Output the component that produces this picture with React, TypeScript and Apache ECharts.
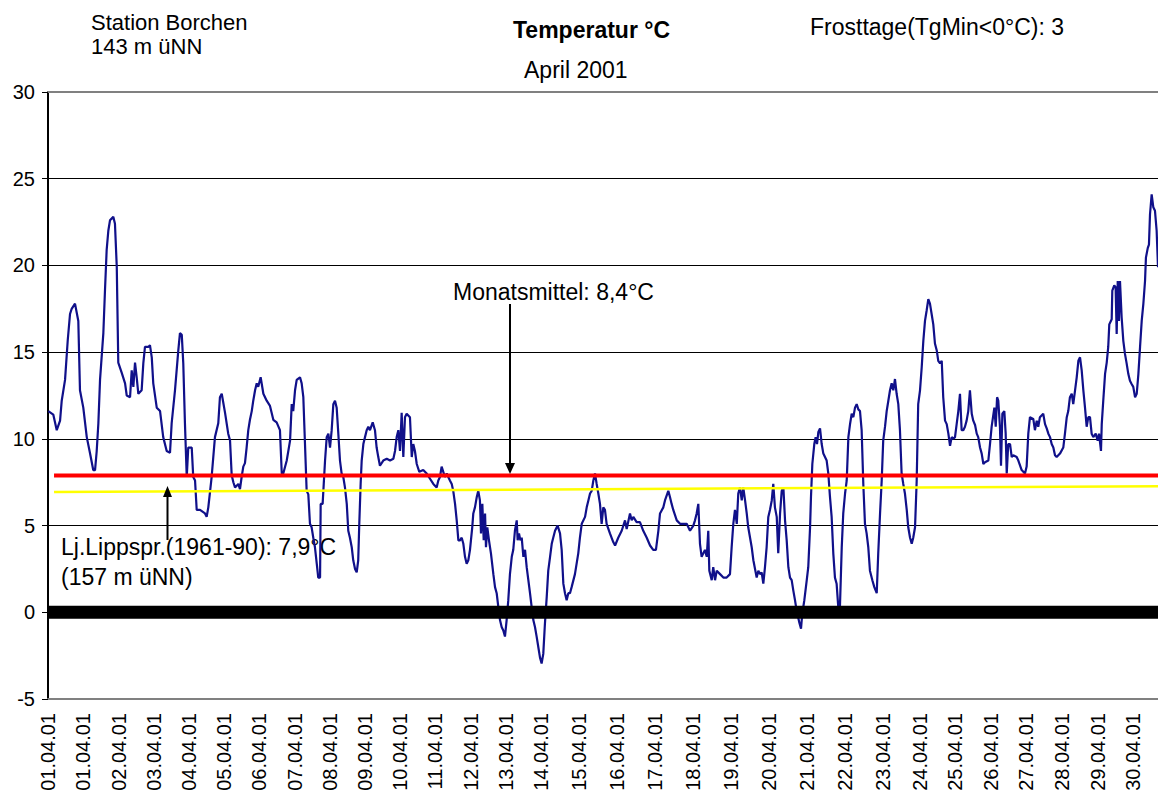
import React, { useEffect, useRef } from "react";
import * as echarts from "echarts";

// ---------- data ----------
const tickLabels = [
  "01.04.01", "01.04.01", "02.04.01", "03.04.01", "04.04.01", "05.04.01", "06.04.01", "07.04.01",
  "08.04.01", "09.04.01", "10.04.01", "11.04.01", "12.04.01", "13.04.01", "14.04.01", "15.04.01",
  "16.04.01", "17.04.01", "18.04.01", "19.04.01", "20.04.01", "21.04.01", "22.04.01", "23.04.01",
  "24.04.01", "25.04.01", "26.04.01", "27.04.01", "28.04.01", "29.04.01", "30.04.01",
];
// position (hours since start) of each date label
const tickHours = [
  0, 23.5, 46.9, 70.2, 93.6, 116.9, 140.2, 163.6, 186.9, 210.3, 233.6, 256.9, 280.3, 303.6, 327.0,
  352.1, 377.3, 402.5, 427.7, 452.9, 478.1, 503.3, 528.5, 553.7, 578.2, 601.7, 625.3, 648.8, 672.3,
  695.9, 719.4,
];
const X_MAX_HOURS = 736;

// time in hours since start, temperature in °C
const times = [
  0.2, 3.5, 5.8, 8.0, 9.1, 11.3, 13.1, 14.6, 15.7, 17.9, 20.1, 21.2, 23.4, 25.7, 27.8, 30.0, 31.2, 32.3, 33.4, 34.5,
  36.7, 37.8, 38.9, 40.0, 41.1, 43.3, 44.4, 45.6, 46.6, 48.9, 51.1, 52.2, 54.4, 55.5, 56.6, 57.7, 58.8, 59.9, 62.1, 63.2,
  64.3, 66.5, 67.6, 68.8, 69.8, 72.1, 74.3, 76.4, 78.7, 80.9, 82.0, 84.2, 86.4, 87.5, 88.7, 89.7, 90.8, 92.0, 93.0, 95.3,
  96.3, 97.5, 98.6, 100.8, 104.1, 105.2, 106.3, 108.5, 110.7, 112.9, 114.0, 115.2, 117.4, 119.5,
  120.7, 121.8, 122.9, 124.0, 126.2, 127.3, 128.4, 129.5, 130.6, 131.7, 132.8, 133.9, 135.1, 136.1, 137.3, 138.4, 139.4,
  141.0, 142.8, 145.0, 147.2, 149.4, 151.6, 153.8, 155.0, 156.0, 158.3, 160.5, 161.6, 162.6, 163.8, 164.9, 167.1, 168.2,
  169.3, 170.4, 171.5, 172.6, 173.7, 174.8, 175.9, 177.0, 178.2, 179.2, 180.4, 180.8, 182.1, 183.7, 184.8, 185.9, 187.0,
  188.1, 189.2, 190.3, 191.4, 192.5, 193.6, 194.7, 195.8, 196.9, 198.1, 199.1, 200.2, 201.4, 202.4, 203.6, 204.7, 205.7,
  206.4, 207.3, 208.0, 209.1, 210.2, 211.3, 212.4, 213.5, 215.3, 216.8, 217.9, 219.0, 220.1, 222.3, 224.6, 226.8, 229.0,
  230.1, 231.2, 232.3, 233.4, 234.5, 235.6, 236.7, 237.8, 238.9, 240.0, 241.2, 242.2, 243.3, 244.5, 246.2,
  248.8, 251.1, 253.3, 255.5, 257.7, 258.8, 259.9, 261.0, 262.1, 263.2, 264.4, 265.4, 266.5, 267.7, 268.7, 269.9, 271.0,
  272.1, 273.2, 274.3, 275.4, 276.5, 277.6, 278.7, 279.8, 281.3, 282.0, 283.1, 284.3, 285.3, 286.4, 287.1, 288.0, 288.9,
  289.8, 290.4, 291.3, 292.4, 293.7, 295.3, 296.4, 297.5, 298.6, 299.7, 300.8, 301.9, 303.0, 304.1, 305.2, 306.3, 307.5,
  308.5, 309.6, 310.8, 311.4, 312.3, 313.2, 314.1, 315.2, 316.3, 317.4, 318.5, 319.6, 320.7, 321.8, 322.9, 324.0, 325.1,
  326.2, 327.3, 328.4, 329.5, 330.7, 331.7, 332.9, 334.0, 335.0, 336.2, 337.9, 339.5, 340.6, 341.7, 342.8, 343.9, 345.0,
  346.1, 347.2, 349.4, 351.6, 352.7, 353.9, 356.1, 357.2, 358.3, 359.4, 360.5, 361.6, 362.7, 363.8, 364.9,
  366.0, 367.1, 368.2, 369.3, 370.4, 372.6, 374.8, 376.0, 378.1, 380.4, 382.6, 383.7, 385.9, 387.0, 388.1, 390.3, 392.5,
  394.7, 397.0, 399.2, 401.3, 403.1, 404.7, 405.8, 408.0, 409.1, 411.3, 412.4, 413.5, 414.6, 416.9, 419.1, 421.2, 423.5,
  425.7, 427.9, 429.0, 430.1, 431.2, 432.3, 433.4, 435.6, 436.8, 437.8, 438.5, 440.1, 441.1, 442.3, 443.4, 445.6, 447.8,
  450.0, 452.2, 453.3, 454.4, 455.5, 456.7, 457.7, 458.8, 460.0, 461.0, 462.2, 463.3, 464.3, 466.6, 467.7, 469.9, 471.0,
  472.1, 473.2, 474.3, 475.4, 476.5, 477.6, 478.7, 479.9, 480.9, 482.0, 483.2, 484.2, 485.4, 486.5, 487.6, 488.7, 489.8,
  490.9, 492.0, 493.1, 494.2, 495.3, 496.4, 498.2,
  499.3, 500.1, 501.5, 503.1, 504.1, 505.3, 505.9, 506.8, 508.1, 509.0, 509.9, 510.8, 511.9, 513.0, 514.1, 516.3, 517.4,
  518.5, 519.6, 520.7, 521.8, 522.9, 524.0, 525.1, 526.3, 527.3, 528.5, 529.6, 530.7, 531.8, 532.9, 534.0, 535.1, 536.2,
  537.3, 538.4, 539.5, 540.6, 541.7, 542.8, 543.9, 545.0, 546.6, 547.9, 549.5, 550.5, 551.7, 552.8, 553.8, 555.0, 556.1,
  557.2, 558.3, 559.4, 560.5, 561.6, 562.7, 563.8, 564.9, 566.0, 567.1, 568.2, 569.4, 570.4, 571.6, 572.7, 573.7, 574.9,
  576.0, 577.0, 578.2, 579.3, 580.4, 581.5, 582.6, 583.7, 584.8, 585.9, 587.0, 588.1, 589.3, 590.3, 591.5, 592.6, 593.6,
  594.8, 595.9, 597.0, 598.1, 599.2, 600.3, 601.4, 602.5, 603.6, 604.7, 605.8, 606.9, 608.0, 609.1, 610.2, 611.3, 612.5,
  613.5, 614.7, 615.8, 616.8, 618.0, 619.1, 620.2, 621.3, 623.5, 624.6, 625.7, 627.5, 628.4, 629.3, 630.1, 631.2, 631.9,
  632.8, 634.1, 635.0, 635.7, 636.7, 637.9, 639.0, 640.0, 642.3, 643.4, 645.6, 647.8, 648.9, 650.0, 651.1, 653.3, 654.4,
  655.6, 656.6, 657.7, 659.9, 661.1, 662.2, 663.3, 664.4, 665.5, 666.6, 667.7, 668.8, 671.0, 673.2, 674.3, 675.5, 676.5,
  677.6, 678.8, 679.8, 681.0, 682.1, 683.2, 684.3, 685.4, 686.5, 687.6, 688.7, 689.8, 690.9, 692.0, 693.1, 694.7, 696.0,
  696.9, 698.2, 698.7, 699.7, 700.9, 702.0, 703.0, 703.7, 705.3, 705.7, 707.0, 707.9, 708.6, 709.3, 710.1, 710.8, 711.9,
  713.0, 714.1, 715.2, 716.3, 717.4, 718.6, 719.6, 720.8, 721.9, 723.0, 724.1, 725.2, 726.3, 727.4, 728.0, 729.2, 730.0,
  730.7, 731.8, 732.9, 734.0, 735.1, 736.0,
];
const temps = [
  11.6, 11.4, 10.5, 11.05, 12.2, 13.4, 15.7, 17.2, 17.5, 17.8, 16.8, 12.8, 11.8, 10.1, 9.2, 8.2, 8.2, 9.3, 10.9, 13.4,
  16.1, 18.6, 20.9, 22.0, 22.6, 22.8, 22.4, 19.9, 14.4, 13.8, 13.2, 12.5, 12.4, 13.95, 13.0, 14.4, 13.55, 12.6, 12.8, 14.35,
  15.3, 15.3, 15.4, 14.7, 13.2, 11.8, 11.6, 10.1, 9.3, 9.2, 10.9, 12.8, 15.1, 16.1, 16.0, 14.35, 10.9, 7.8, 9.5, 9.5,
  7.8, 7.6, 5.9, 5.9, 5.7, 5.5, 6.05, 7.8, 10.1, 10.9, 12.4, 12.6, 11.5, 10.3,
  9.9, 7.9, 7.5, 7.2, 7.4, 7.1, 7.8, 8.4, 8.6, 9.5, 10.5, 11.1, 11.6, 12.2, 12.8, 13.2, 13.0,
  13.55, 12.6, 12.2, 11.9, 11.1, 10.95, 10.5, 8.0, 8.0, 8.75, 9.9, 12.0, 11.6, 12.8, 13.4, 13.55, 13.2,
  12.4, 9.7, 7.0, 6.8, 5.1, 4.9, 4.3, 3.75, 2.8, 2.0, 2.0, 6.25, 6.25, 8.75, 10.1, 10.3, 9.5,
  10.5, 12.0, 12.2, 11.8, 10.3, 8.75, 8.0, 7.8, 7.2, 6.25, 4.7, 4.3, 3.75, 3.0, 2.5, 2.3, 3.0,
  5.1, 7.4, 8.75, 9.7, 10.1, 10.5, 10.7, 10.5, 10.95, 10.5, 9.5, 8.95, 8.45, 8.75, 8.85, 8.75, 8.85,
  9.3, 10.1, 10.5, 9.3, 11.5, 8.95, 11.25, 11.45, 11.35, 11.25, 8.95, 9.7, 9.3, 8.55, 8.1,
  8.2, 8.0, 7.7, 7.4, 7.2, 7.6, 7.8, 8.4, 8.1, 7.8, 8.0, 7.8, 7.6, 7.4, 7.0, 6.25, 5.3,
  4.15, 4.15, 4.3, 3.95, 3.2, 2.8, 3.0, 3.6, 4.9, 5.7, 6.05, 6.65, 7.0, 6.45, 4.55, 6.25, 4.15,
  5.7, 3.75, 4.9, 4.15, 3.4, 2.2, 1.45, 1.1, 0.3, -0.45, -0.85, -1.05, -1.4, -0.45, 0.7, 2.2, 3.2,
  3.6, 4.7, 5.3, 4.15, 4.55, 4.15, 4.3, 3.2, 3.6, 2.6, 1.85, 1.1, 0.3, -0.45, -0.85, -1.4, -2.0,
  -2.6, -2.95, -2.4, -0.65, 0.9, 2.4, 3.2, 3.95, 4.3, 4.7, 5.0, 4.55, 3.6, 1.65, 1.1, 0.7, 1.1,
  1.1, 1.45, 2.2, 3.4, 4.3, 5.1, 5.5, 6.05, 6.45, 6.85, 7.0, 7.6, 8.0, 7.4, 6.85,
  6.25, 5.1, 6.05, 5.9, 5.1, 4.55, 4.05, 3.85, 4.3, 4.7, 5.3, 4.8, 5.7, 5.3, 5.5, 5.2, 5.2,
  4.7, 4.3, 3.85, 3.6, 3.6, 4.7, 5.7, 6.05, 6.45, 7.0, 6.65, 6.25, 5.9, 5.3, 5.1, 5.1, 5.1,
  4.7, 5.0, 5.3, 5.7, 6.25, 3.95, 3.2, 3.6, 3.2, 4.7, 2.4, 1.85, 2.6, 1.85, 2.4, 2.2, 2.0,
  2.0, 2.2, 3.75, 5.1, 5.9, 5.1, 6.85, 7.2, 6.45, 7.2, 6.45, 5.7, 4.9, 3.75, 3.0, 2.0, 2.4,
  2.2, 2.3, 1.65, 2.6, 3.75, 5.5, 5.9, 6.45, 7.4, 6.05, 5.5, 3.4, 5.7, 7.0, 7.2, 5.3, 4.15,
  2.6, 2.0, 1.85, 1.25, 0.7, 0.1, -0.6,
  -0.95, -0.1, 0.7, 1.85, 2.6, 4.9, 6.65, 8.55, 9.7, 10.1, 9.7, 10.4, 10.6, 9.7, 9.15, 8.75, 8.0,
  6.65, 5.5, 3.4, 2.0, 1.65, 0.3, 0.3, 3.75, 5.7, 6.85, 7.6, 10.1, 10.85, 11.45, 11.25, 11.8, 12.0,
  11.7, 11.6, 10.5, 7.4, 5.1, 4.55, 3.75, 2.4, 1.85, 1.45, 1.1, 3.4, 5.7, 7.6, 9.9, 10.7, 11.6,
  12.2, 12.8, 13.2, 12.8, 13.45, 12.6, 12.0, 10.5, 8.0, 7.4, 6.85, 5.9, 4.9, 4.3, 3.95, 4.3, 4.9,
  7.6, 12.0, 12.8, 14.1, 15.65, 16.8, 17.4, 18.05, 17.8, 17.2, 16.6, 15.5, 15.1, 14.5, 14.35, 14.5, 12.4,
  11.05, 10.85, 10.3, 9.6, 10.1, 10.0, 10.1, 10.85, 11.6, 12.6, 10.5, 10.5, 10.7, 11.05, 11.6, 12.8, 11.45,
  11.05, 10.8, 10.3, 10.1, 9.5, 9.15, 8.55, 8.65, 8.75, 9.7, 10.7, 11.8, 10.7, 12.4, 12.2, 10.7, 8.45,
  11.45, 11.6, 10.3, 8.0, 9.7, 9.7, 8.95, 9.05, 8.95, 8.75, 8.2, 8.0, 8.4, 10.3, 11.25, 11.15, 10.5,
  11.05, 10.7, 11.25, 11.45, 10.85, 10.6, 10.3, 10.1, 9.7, 9.5, 9.05, 8.95, 9.15, 9.5, 10.3, 11.25, 11.6,
  12.4, 12.6, 12.0, 12.8, 13.55, 14.5, 14.7, 13.95, 12.8, 11.8, 10.7, 11.25, 11.25, 10.3, 10.1, 10.3, 9.9,
  10.3, 9.3, 10.85, 12.2, 13.75, 14.4, 15.3, 16.6, 16.9, 18.55, 18.85, 18.75, 16.05, 19.1, 16.8, 19.1, 17.0,
  15.65, 14.9, 14.35, 13.75, 13.35, 13.15, 13.0, 12.4, 12.6, 13.75, 15.3, 16.8, 17.8, 19.1, 20.45, 21.0, 21.2,
  22.95, 24.1, 23.35, 23.15, 22.0, 19.9,
];

// reference lines: [hours, °C]
const monthMeanLine = [[4.0, 7.89], [736, 7.89]];
const longTermLine = [[4.0, 6.93], [736, 7.27]];
const frostLine = [[0, 0], [736, 0]];

const FONT = "'Liberation Sans', Arial, Helvetica, sans-serif";

export default function App() {
  const ref = useRef<HTMLDivElement>(null);

  useEffect(() => {
    if (!ref.current) return;
    const chart = echarts.init(ref.current, undefined, { renderer: "svg" });
    const tempData = times.map((t, i) => [t, temps[i]]);

    const txt = (x: number, y: number, text: string, size = 23, bold = false) => ({
      type: "text",
      x,
      y,
      silent: true,
      style: {
        text,
        fill: "#000",
        fontSize: size,
        fontFamily: FONT,
        fontWeight: bold ? "bold" : "normal",
        align: "left",
        verticalAlign: "middle",
      },
    });

    const labelFor = (v: number) => {
      for (let i = 0; i < tickHours.length; i++) {
        if (Math.abs(tickHours[i] - v) < 0.05) return tickLabels[i];
      }
      return "";
    };

    chart.setOption({
      animation: false,
      backgroundColor: "#fff",
      grid: { left: 48, right: 0, top: 92, bottom: 97, containLabel: false, outerBoundsMode: "none" },
      xAxis: [
        {
          type: "value",
          min: 0,
          max: X_MAX_HOURS,
          axisLine: { show: true, onZero: false, lineStyle: { color: "#808080", width: 2 } },
          axisTick: { show: false },
          splitLine: { show: false },
          axisLabel: {
            customValues: tickHours,
            rotate: 90,
            margin: 14,
            fontSize: 20,
            fontFamily: FONT,
            color: "#000",
            formatter: labelFor,
          },
        },
        {
          type: "value",
          position: "top",
          min: 0,
          max: X_MAX_HOURS,
          axisLine: { show: true, onZero: false, lineStyle: { color: "#808080", width: 2 } },
          axisTick: { show: false },
          axisLabel: { show: false },
          splitLine: { show: false },
        },
      ],
      yAxis: {
        type: "value",
        min: -5,
        max: 30,
        interval: 5,
        axisLine: { show: true, lineStyle: { color: "#000", width: 2 } },
        axisTick: { show: true, length: 6, lineStyle: { color: "#000", width: 1 } },
        axisLabel: { fontSize: 20, margin: 13, color: "#000", fontFamily: FONT },
        splitLine: { show: true, showMinLine: false, showMaxLine: false, lineStyle: { color: "#000", width: 1 } },
      },
      series: [
        {
          name: "Temperatur",
          type: "line",
          data: tempData,
          showSymbol: false,
          symbol: "none",
          lineStyle: { color: "#10108a", width: 2.2 },
          z: 3,
          silent: true,
        },
        {
          name: "Frost",
          type: "line",
          data: frostLine,
          symbol: "none",
          lineStyle: { color: "#000", width: 13 },
          z: 4,
          silent: true,
        },
        {
          name: "Lj.Lippspr.",
          type: "line",
          data: longTermLine,
          symbol: "none",
          lineStyle: { color: "#ffff00", width: 2.5 },
          z: 5,
          silent: true,
        },
        {
          name: "Monatsmittel",
          type: "line",
          data: monthMeanLine,
          symbol: "none",
          lineStyle: { color: "#ff0000", width: 4 },
          z: 6,
          silent: true,
        },
      ],
      graphic: [
        txt(91, 22, "Station Borchen", 22),
        txt(91, 46, "143 m üNN", 22),
        txt(513, 30, "Temperatur °C", 23, true),
        txt(524, 70, "April 2001"),
        txt(810, 27, "Frosttage(TgMin<0°C): 3"),
        txt(453, 292, "Monatsmittel: 8,4°C"),
        txt(61, 547, "Lj.Lippspr.(1961-90): 7,9°C"),
        txt(61, 577, "(157 m üNN)"),
        { type: "line", silent: true, shape: { x1: 510, y1: 304, x2: 510, y2: 466 }, style: { stroke: "#000", lineWidth: 2 }, z: 100 },
        { type: "polygon", silent: true, shape: { points: [[505, 463], [515, 463], [510, 474]] }, style: { fill: "#000" }, z: 100 },
        { type: "line", silent: true, shape: { x1: 167.5, y1: 540, x2: 167.5, y2: 495 }, style: { stroke: "#000", lineWidth: 2 }, z: 100 },
        { type: "polygon", silent: true, shape: { points: [[163, 497], [172, 497], [167.5, 486]] }, style: { fill: "#000" }, z: 100 },
      ],
    });

    return () => chart.dispose();
  }, []);

  return (
    <div
      ref={ref}
      style={{ position: "absolute", left: 0, top: 0, width: 1158, height: 796, background: "#fff" }}
    />
  );
}
